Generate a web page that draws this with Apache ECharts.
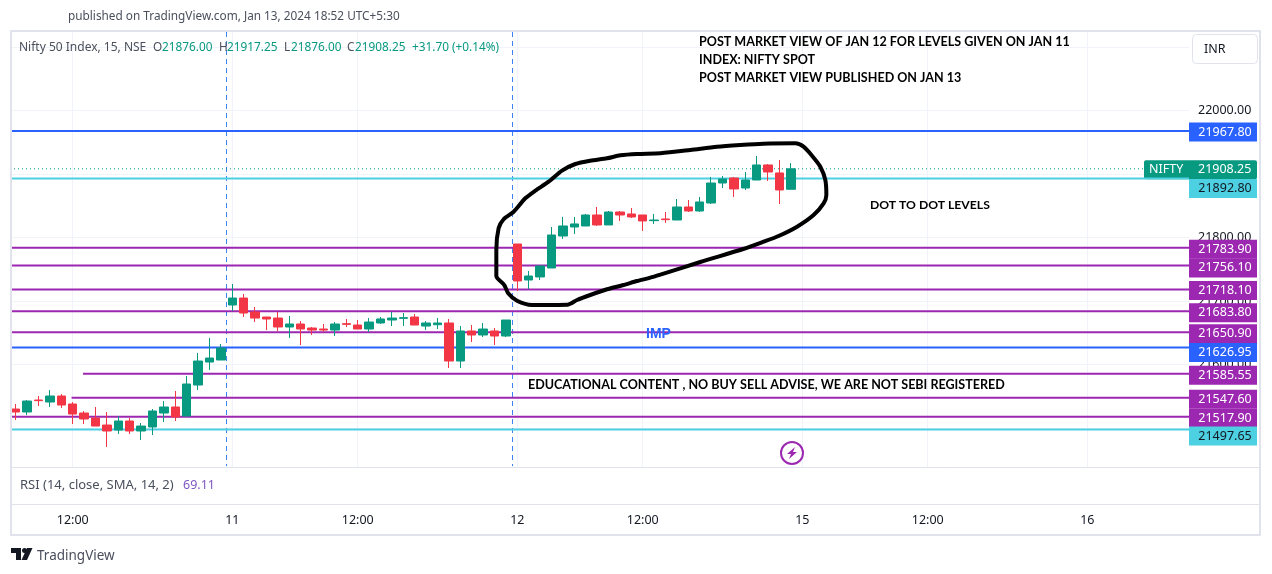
<!DOCTYPE html>
<html>
<head>
<meta charset="utf-8">
<title>Nifty 50 Index, 15, NSE</title>
<script src="https://cdn.jsdelivr.net/npm/echarts@6/dist/echarts.min.js"></script>
<style>
  html, body { margin: 0; padding: 0; background: #fff; }
  #chart { width: 1272px; height: 574px; }
</style>
</head>
<body>
<div id="chart"></div>
<script>
// 15 minute bars, Jan 10 afternoon to Jan 12 close
var opens = [21529.9, 21525.2, 21544.1, 21540.9, 21550.4, 21537.8, 21523.6, 21515.7, 21504.7, 21496.8, 21511, 21495.3, 21501.6, 21523.6, 21533.1, 21518.9, 21567.7, 21603.9, 21607.1,
  21693.7, 21704.7, 21682.7, 21674.8, 21673.2, 21659.1, 21663.8, 21657.5, 21655.9, 21654.3, 21664.3, 21662.2, 21655.9, 21665.4, 21670.1, 21672.7, 21674.8, 21660.6, 21662.7, 21665.4, 21605.5, 21652.8, 21646.5, 21652.8, 21644.9,
  21789.8, 21733.1, 21737.9, 21752, 21802.4, 21816.6, 21818.2, 21835.5, 21819.8, 21840.2, 21837.1, 21835.5, 21826.6, 21829.2, 21827.6, 21848.1, 21841.8, 21854.4, 21885.9, 21893.8, 21878, 21890.6, 21914.3, 21901.7, 21876];
var closes = [21525.2, 21542.5, 21543.1, 21550.4, 21536.2, 21522, 21514.2, 21503.1, 21495.3, 21511, 21495.3, 21503.1, 21526.8, 21533.1, 21517.3, 21569.3, 21605.5, 21610.2, 21626,
  21704.7, 21681.1, 21673.2, 21671.7, 21659.1, 21663.8, 21655.9, 21654.3, 21654.3, 21663.8, 21663.3, 21655.9, 21666.9, 21671.7, 21673.2, 21673.8, 21662.2, 21665.4, 21665.4, 21605.5, 21652.8, 21646.5, 21655.9, 21644.9, 21670.1,
  21731.6, 21739.4, 21755.2, 21804, 21818.2, 21821.4, 21835.5, 21819.8, 21840.2, 21835.5, 21832.4, 21826.1, 21827.6, 21828.2, 21848.1, 21841.8, 21856, 21885.9, 21892.2, 21876.5, 21890.6, 21914.3, 21903.2, 21874.9, 21908.25];
var lows = [21512.6, 21520.5, 21534.6, 21533.1, 21531.5, 21506.3, 21506.3, 21503.1, 21470.1, 21490.5, 21490.5, 21481.1, 21489, 21509.4, 21511, 21518.9, 21559.8, 21591.3, 21607.1,
  21684.3, 21674.8, 21666.9, 21654.3, 21652.8, 21641.7, 21630.7, 21646.5, 21651.2, 21644.9, 21659.1, 21655.9, 21651.2, 21663.8, 21660.6, 21660.6, 21662.2, 21654.3, 21655.9, 21594.5, 21594.5, 21635.4, 21643.3, 21630.7, 21643.3,
  21715.8, 21719, 21733.1, 21752, 21797.7, 21805.6, 21818.2, 21818.2, 21819.8, 21826.1, 21830.8, 21810.3, 21821.4, 21822.9, 21827.6, 21840.2, 21840.2, 21852.8, 21878, 21863.9, 21874.9, 21890.6, 21889.1, 21852.8, 21876];
var highs = [21537.8, 21544.1, 21550.4, 21559.8, 21553.5, 21540.9, 21526.8, 21533.1, 21525.2, 21518.9, 21515.7, 21507.9, 21529.9, 21542.5, 21558.3, 21581.9, 21618.1, 21641.7, 21632.3,
  21726.8, 21711.1, 21690.6, 21674.8, 21682.7, 21676.4, 21668.5, 21659.1, 21663.8, 21666.9, 21671.7, 21670.1, 21673.2, 21674.8, 21682.7, 21681.1, 21679.5, 21668.5, 21673.2, 21671.7, 21660.6, 21662.2, 21665.4, 21657.5, 21670.1,
  21789.8, 21747.3, 21755.2, 21816.6, 21832.4, 21832.4, 21837.1, 21848.1, 21841.8, 21841.8, 21846.5, 21835.5, 21837.1, 21840.2, 21860.7, 21859.1, 21863.9, 21895.4, 21896.9, 21895.4, 21903.2, 21928.4, 21915.8, 21922.1, 21917.25];

var lastClose = 21908.25;

// horizontal levels
var levelPrices = [21967.80, 21892.80, 21783.90, 21756.10, 21718.10, 21683.80, 21650.90, 21626.95, 21585.55, 21547.60, 21517.90, 21497.65];
var levelStartBars = [0, 0, 0, 0, 0, 0, 0, 0, 6.4, 5.4, 0, 0];
var levelColors = ['#2962ff', '#4dd0e1', '#9c27b0', '#9c27b0', '#9c27b0', '#9c27b0', '#9c27b0', '#2962ff', '#9c27b0', '#9c27b0', '#9c27b0', '#4dd0e1'];
var levelTextColors = ['#fff', '#131722', '#fff', '#fff', '#fff', '#fff', '#fff', '#fff', '#fff', '#fff', '#fff', '#131722'];
// the tags push each other apart on the price scale
var levelTagShifts = [1, 10, 1.5, 2.5, 1, 1.5, 1.5, 5, 1.5, 1.5, 1.5, 6.5];

// axis
var timeTickBars = [5.5, 19.5, 30.5, 44.5, 55.5, 69.5, 80.5, 94.5];
var timeTickLabels = ['12:00', '11', '12:00', '12', '12:00', '15', '12:00', '16'];
var sessionBreakBars = [18.99, 44.08];
var priceGridLines = [21500, 21600, 21700, 21800, 21900, 22000, 22100];
var priceLabels = [21600, 21700, 21800, 22000];

// hand drawn loop round the Jan 12 session, [bar, price]
var loopPoints = [[57.05, 21741.5], [56.17, 21736.8], [55, 21731.5], [53.8, 21725.2], [52.37, 21718.5], [50.9, 21709.5], [49.74, 21701.6], [48.9, 21694.2], [45.79, 21693.8], [44.47, 21700.5], [43.7, 21712.2], [43.36, 21725.2], [42.66, 21739.4], [42.66, 21780.4], [42.86, 21814.6], [43.3, 21828.8], [44.18, 21840.7], [45.2, 21861.8], [46.08, 21873.8], [47.25, 21887.9], [48.42, 21905.3], [49.59, 21915.8], [50.9, 21921], [52.37, 21924.8], [53.54, 21929.5], [55, 21931.6], [57.05, 21932.7], [59.68, 21937.9], [62.02, 21943.1], [64.06, 21945.8], [66.08, 21947.8], [68.89, 21948.4], [69.61, 21943.1], [70.35, 21928.9], [71.08, 21911.6], [71.52, 21890.6], [71.61, 21867], [71.37, 21853.9], [70.49, 21835.5], [69.04, 21817.1], [67.42, 21802.4], [66.11, 21793.4], [64.32, 21781.9], [60.55, 21761.5], [57.05, 21741.5]];

var UP = '#089981';
var DOWN = '#f23645';
var FONT = '"Noto Sans", sans-serif';
var NOTE_FONT = 'bold 12.55px Lato, sans-serif';
var TEXT = '#131722';
var SOFT = '#4a4f5c';
var LINE = '#e0e3eb';
var X_MAX = 103.42;

function label(x, y, text, color, font) {
    return {
        type: 'text', z: 50, silent: true,
        style: { x: x, y: y + 1, text: text, fill: color || TEXT, font: font || '11.8px ' + FONT, textVerticalAlign: 'middle' }
    };
}

var graphics = [
    // frame and panes
    { type: 'rect', z: 40, silent: true, shape: { x: 11, y: 31, width: 1249, height: 504 }, style: { fill: 'none', stroke: LINE, lineWidth: 2 } },
    { type: 'line', z: 40, silent: true, shape: { x1: 11, y1: 467.5, x2: 1260, y2: 467.5 }, style: { stroke: LINE, lineWidth: 1 } },
    { type: 'line', z: 40, silent: true, shape: { x1: 11, y1: 504.5, x2: 1260, y2: 504.5 }, style: { stroke: LINE, lineWidth: 1 } },
    { type: 'rect', z: 40, silent: true, shape: { x: 1192.5, y: 34.5, width: 65, height: 29, r: 4 }, style: { fill: '#fff', stroke: LINE, lineWidth: 1 } },

    label(68, 16, 'published on TradingView.com, Jan 13, 2024 18:52 UTC+5:30', SOFT),
    label(19, 47, 'Nifty 50 Index, 15, NSE', SOFT, '12px ' + FONT),
    label(153, 47, 'O', SOFT), label(162, 47, '21876.00', UP),
    label(219, 47, 'H', SOFT), label(227, 47, '21917.25', UP),
    label(284, 47, 'L', SOFT), label(291, 47, '21876.00', UP),
    label(347, 47, 'C', SOFT), label(355, 47, '21908.25', UP),
    label(412, 47, '+31.70 (+0.14%)', UP),
    label(1204, 48, 'INR', TEXT, '12.5px ' + FONT),
    label(20, 484, 'RSI (14, close, SMA, 14, 2)', SOFT, '13px ' + FONT),
    label(183, 484, '69.11', '#7e57c2', '12.5px ' + FONT),

    label(699, 41, 'POST MARKET VIEW OF JAN 12 FOR LEVELS GIVEN ON JAN 11', '#000', NOTE_FONT),
    label(699, 59, 'INDEX: NIFTY SPOT', '#000', NOTE_FONT),
    label(699, 77, 'POST MARKET VIEW PUBLISHED ON JAN 13', '#000', NOTE_FONT),
    label(870, 204, 'DOT TO DOT LEVELS', '#000', 'bold 12.2px Lato, sans-serif'),
    label(646, 333, 'IMP', '#2962ff', 'bold 14px "Liberation Sans", sans-serif'),
    label(528, 384, 'EDUCATIONAL CONTENT , NO BUY SELL ADVISE, WE ARE NOT SEBI REGISTERED', '#000', NOTE_FONT),

    // earnings flash icon
    { type: 'circle', z: 50, silent: true, shape: { cx: 792, cy: 453, r: 11 }, style: { fill: '#fff', stroke: '#9c27b0', lineWidth: 2 } },
    { type: 'polygon', z: 51, silent: true, shape: { points: [[795, 447], [787, 454], [791, 454], [789, 459], [797, 452], [793, 452]] }, style: { fill: '#9c27b0' } },

    // TradingView logo
    { type: 'polygon', z: 50, silent: true, shape: { points: [[11, 548], [21, 548], [21, 560], [16, 560], [16, 553], [11, 553]] }, style: { fill: '#131722' } },
    { type: 'circle', z: 50, silent: true, shape: { cx: 24.5, cy: 550.5, r: 2.5 }, style: { fill: '#131722' } },
    { type: 'polygon', z: 50, silent: true, shape: { points: [[27, 548], [32.5, 548], [27, 560], [21.5, 560]] }, style: { fill: '#131722' } },
    label(37, 555, 'TradingView', SOFT, '13.5px ' + FONT)
];

var series = [];

// session breaks
sessionBreakBars.forEach(function (bar) {
    series.push({
        type: 'line', silent: true, symbol: 'none', z: 2,
        data: [[bar, 22123.7], [bar, 21440]],
        lineStyle: { color: '#3d82f0', width: 1, type: [5, 4] }
    });
});

function priceTag(text, textColor, bg, width, dx, dy) {
    return {
        show: true,
        formatter: text,
        distance: 0,
        offset: [dx, dy],
        width: width,
        height: 19,
        lineHeight: 19,
        align: 'center',
        padding: [0, 0, 0, 4],
        fontFamily: FONT,
        fontSize: 12.5,
        color: textColor,
        backgroundColor: bg
    };
}

// last price dotted line with its tag
var lastTag = priceTag('{name|NIFTY}{price|' + lastClose.toFixed(2) + '}', '#fff', UP, 108, -45, 1);
lastTag.align = 'left';
lastTag.padding = [0, 0, 0, 5];
lastTag.borderRadius = 2;
lastTag.rich = {
    name: { width: 49, color: '#fff', fontFamily: FONT, fontSize: 12.5, lineHeight: 19 },
    price: { color: '#fff', fontFamily: FONT, fontSize: 12.5, lineHeight: 19 }
};
series.push({
    type: 'line', silent: true, symbol: 'none', z: 2,
    data: [[0, lastClose], [X_MAX, lastClose]],
    lineStyle: { color: UP, width: 1, type: [1, 3] },
    endLabel: lastTag
});

// levels and their price tags
levelPrices.forEach(function (price, i) {
    series.push({
        type: 'line', silent: true, symbol: 'none', z: 3,
        data: [[levelStartBars[i], price], [X_MAX, price]],
        lineStyle: { color: levelColors[i], width: 2 },
        endLabel: priceTag(price.toFixed(2), levelTextColors[i], levelColors[i], 64, 34, levelTagShifts[i])
    });
});

series.push({
    type: 'candlestick', silent: true, z: 5, barWidth: 9,
    data: opens.map(function (o, i) { return [i + 0.5, o, closes[i], lows[i], highs[i]]; }),
    itemStyle: { color: UP, color0: DOWN, borderColor: UP, borderColor0: DOWN, borderWidth: 1 }
});

series.push({
    type: 'line', silent: true, symbol: 'none', z: 6, smooth: 0.25, clip: false,
    data: loopPoints,
    lineStyle: { color: '#000', width: 4, cap: 'round', join: 'round' }
});

var chart = echarts.init(document.getElementById('chart'));
chart.setOption({
    backgroundColor: '#fff',
    animation: false,
    grid: { left: 10, top: 32, width: 1179, height: 435 },
    xAxis: {
        type: 'value', min: 0, max: X_MAX,
        axisLine: { show: false },
        axisTick: { show: false, customValues: timeTickBars },
        splitLine: { show: true, lineStyle: { color: '#f0f3fa', width: 1 } },
        axisLabel: {
            customValues: timeTickBars, margin: 47, color: TEXT, fontFamily: FONT, fontSize: 12.5,
            formatter: function (v) { return timeTickLabels[timeTickBars.indexOf(v)]; }
        }
    },
    yAxis: {
        type: 'value', position: 'right', min: 21438.6, max: 22123.7,
        axisLine: { show: false },
        axisTick: { show: false, customValues: priceGridLines },
        splitLine: { show: true, lineStyle: { color: '#f0f3fa', width: 1 } },
        axisLabel: {
            customValues: priceLabels, margin: 9, color: TEXT, fontFamily: FONT, fontSize: 12.5, padding: [4, 0, 0, 0],
            formatter: function (v) { return v.toFixed(2); }
        }
    },
    graphic: graphics,
    series: series
});
</script>
</body>
</html>
